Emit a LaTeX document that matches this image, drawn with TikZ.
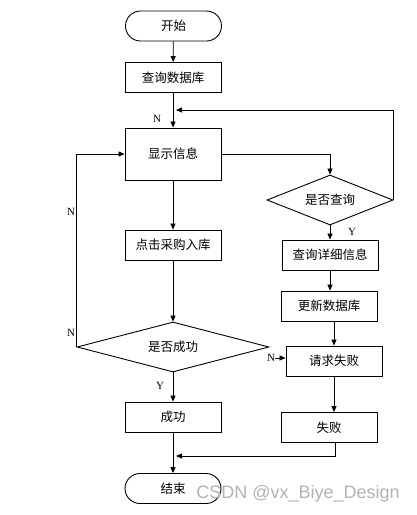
\documentclass[tikz,border=0pt]{standalone}
\usepackage{fontspec}
\setmainfont{Liberation Serif}
\newfontfamily\cjk{Noto Sans CJK SC}
\newfontfamily\wmfont{Liberation Sans}
\usetikzlibrary{arrows.meta,shapes.geometric}

\begin{document}
\begin{tikzpicture}[x=1pt,y=-1pt,
    every node/.style={font=\cjk\fontsize{12.5}{14}\selectfont, inner sep=0pt},
    box/.style={draw, line width=0.9pt, minimum width=96pt, minimum height=30pt},
    term/.style={box, rounded corners=15pt},
    choice/.style={draw, line width=0.9pt, diamond, aspect=2.5},
    lab/.style={font=\rmfamily\fontsize{11}{12}\selectfont},
    arr/.style={line width=0.8pt, -{Triangle[length=6pt,width=5pt]}}]
    \useasboundingbox (0,0) rectangle (416,515);

%                    Boxes
    \node[term] (start) at (173.5,26) {开始};
    \node[box] (query) at (173,77.5) {查询数据库};
    \node[box, minimum height=52pt] (show) at (173,154) {显示信息};
    \node[box] (buy) at (173,245) {点击采购入库};
    \node[choice, minimum width=192pt, minimum height=50pt] (ok) at (173,347) {是否成功};
    \node[box] (succ) at (173,417) {成功};
    \node[term] (end) at (173,488.5) {结束};
    \node[choice, minimum width=126pt, minimum height=50pt] (ask) at (330,200) {是否查询};
    \node[box] (detail) at (330,255) {查询详细信息};
    \node[box] (update) at (329,306) {更新数据库};
    \node[box] (fail) at (334,361) {请求失败};
    \node[box] (failed) at (329,427.5) {失败};

%                    Labels
    \node[lab] (n1) at (157,119) {N};
    \node[lab] (n2) at (71,212) {N};
    \node[lab] (n3) at (71,333) {N};
    \node[lab] (n4) at (271,358) {N};
    \node[lab] (y1) at (352,232) {Y};
    \node[lab] (y2) at (160,386) {Y};
    \coordinate (join1) at (176,110);
    \coordinate (join2) at (176,456);

%                    Arrows
    \draw[arr] (start) -- (query);
    \draw[arr] (query) -- (show);
    \draw[arr] (show.east) -| (ask.north);
    \draw[arr] (ask.east) |- (join1);
    \draw[arr] (ask) -- (detail);
    \draw[arr] (detail.south) -- (detail.south |- update.north);
    \draw[arr] (fail.north |- update.south) -- (fail.north);
    \draw[arr] (n4.east) -- (n4.east -| fail.west);
    \draw[arr] (fail) -- (fail.south |- failed.north);
    \draw[arr] ([xshift=6pt]failed.south) |- (join2);
    \draw[arr] (show) -- (buy);
    \draw[arr] (buy) -- (ok);
    \draw[arr] (ok.west) |- (show.west);
    \draw[arr] (ok) -- (succ);
    \draw[arr] (succ) -- (end);

    \node[font=\wmfont\fontsize{18}{19}\selectfont, text=gray!60] (mark) at (298,494) {CSDN @vx\_Biye\_Design};
\end{tikzpicture}
\end{document}
